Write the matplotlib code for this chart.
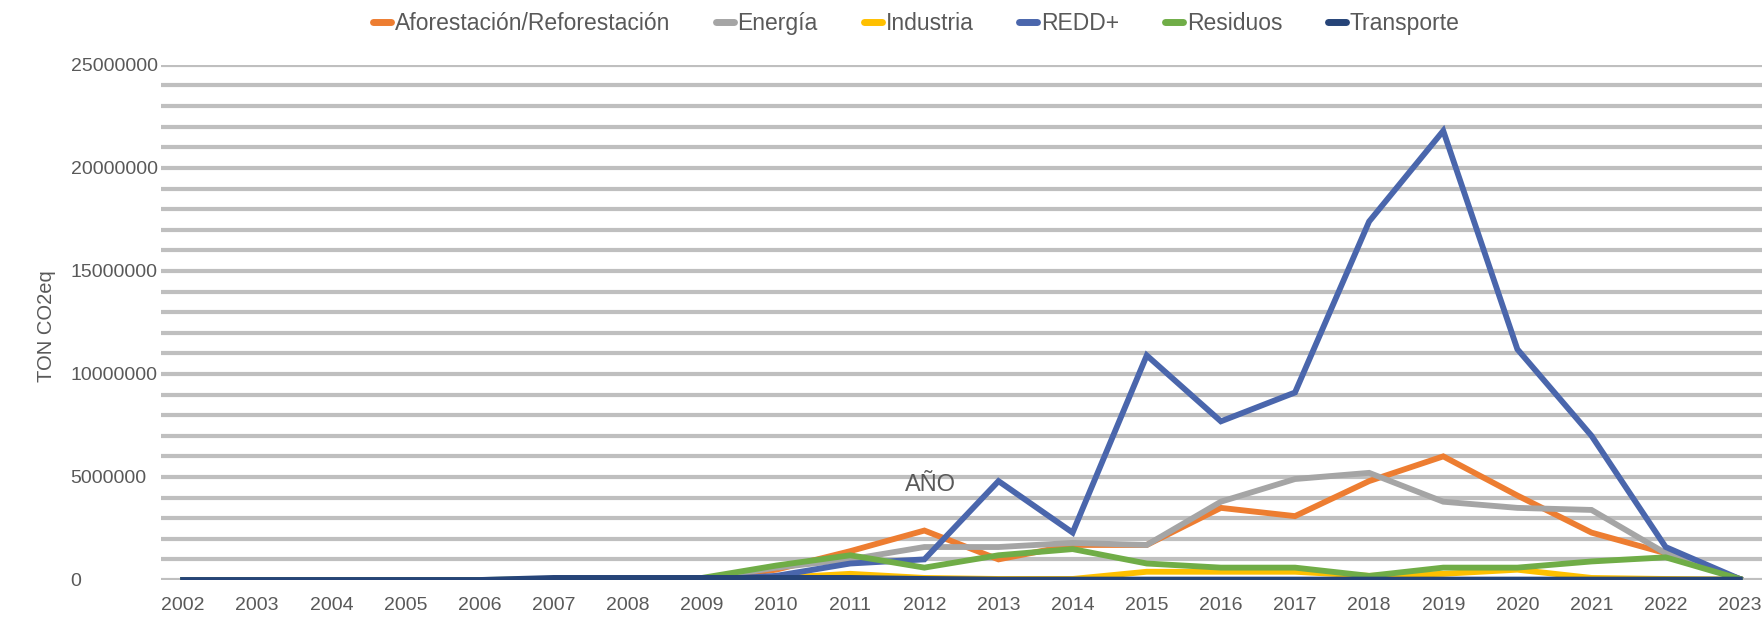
import matplotlib.pyplot as plt

years = list(range(2002, 2024))

aforestacion = [0, 0, 0, 0, 0, 0, 0, 0.05e6, 0.5e6, 1.4e6, 2.4e6, 1.0e6, 1.7e6, 1.7e6,
                3.5e6, 3.1e6, 4.8e6, 6.0e6, 4.1e6, 2.3e6, 1.3e6, 0.05e6]
energia = [0, 0, 0, 0, 0, 0, 0, 0.05e6, 0.6e6, 1.0e6, 1.6e6, 1.6e6, 1.8e6, 1.7e6,
           3.8e6, 4.9e6, 5.2e6, 3.8e6, 3.5e6, 3.4e6, 1.3e6, 0.05e6]
industria = [0, 0, 0, 0, 0, 0, 0, 0, 0.1e6, 0.3e6, 0.1e6, 0.05e6, 0.05e6, 0.4e6,
             0.4e6, 0.4e6, 0.2e6, 0.3e6, 0.5e6, 0.1e6, 0.05e6, 0.02e6]
redd = [0, 0, 0, 0, 0, 0, 0, 0, 0.2e6, 0.8e6, 1.0e6, 4.8e6, 2.3e6, 10.9e6,
        7.7e6, 9.1e6, 17.4e6, 21.8e6, 11.2e6, 7.0e6, 1.6e6, 0.05e6]
residuos = [0, 0, 0, 0, 0, 0.05e6, 0, 0.1e6, 0.7e6, 1.2e6, 0.6e6, 1.2e6, 1.5e6, 0.8e6,
            0.6e6, 0.6e6, 0.2e6, 0.6e6, 0.6e6, 0.9e6, 1.1e6, 0.05e6]
transporte = [0, 0, 0, 0, 0, 0.1e6, 0.1e6, 0.1e6, 0.1e6, 0.1e6, 0.05e6, 0.02e6, 0.02e6, 0.02e6,
              0.02e6, 0.02e6, 0.02e6, 0.02e6, 0.02e6, 0.02e6, 0.02e6, 0.02e6]

series = [
    ("Aforestación/Reforestación", aforestacion, "#ED7D31"),
    ("Energía", energia, "#A5A5A5"),
    ("Industria", industria, "#FFC000"),
    ("REDD+", redd, "#4A66AC"),
    ("Residuos", residuos, "#70AD47"),
    ("Transporte", transporte, "#264478"),
]

plt.rcParams['font.family'] = ['Liberation Sans', 'DejaVu Sans']

fig = plt.figure(figsize=(17.62, 6.18), dpi=100)
ax = fig.add_axes([0.0913, 0.0615, 0.9087, 0.8335])

for name, values, color in series:
    ax.plot(years, values, color=color, linewidth=4.2, label=name, solid_joinstyle='miter')

ax.set_xlim(2001.7, 2023.3)
ax.set_ylim(0, 25000000)
ax.set_xticks(years)
ax.set_xticklabels([str(y) for y in years])
ax.set_yticks(range(0, 25000001, 5000000))
ax.set_yticklabels([str(v) for v in range(0, 25000001, 5000000)])
ax.set_yticks(range(0, 25000001, 1000000), minor=True)
ax.grid(axis='y', which='both', color='#BFBFBF', linewidth=3)
ax.set_axisbelow(True)
ax.tick_params(axis='both', which='both', length=0, labelsize=14, labelcolor='#595959')
ax.tick_params(axis='y', pad=65)
ax.tick_params(axis='x', pad=12)
for label in ax.get_yticklabels():
    label.set_horizontalalignment('left')
for spine in ax.spines.values():
    spine.set_visible(False)

fig.text(0.0265, 0.473, "TON CO2eq", rotation=90, ha='center', va='center',
         fontsize=14.5, color='#595959')
fig.text(0.528, 0.215, "AÑO", ha='center', va='center', fontsize=17, color='#595959')

leg = fig.legend(loc='center', bbox_to_anchor=(0.52, 0.962), ncol=6, frameon=False,
                 fontsize=16.5, labelcolor='#595959', handlelength=0.8, handletextpad=0.15,
                 columnspacing=2.0)
for line in leg.get_lines():
    line.set_linewidth(5)
    line.set_solid_capstyle('round')

fig.savefig("out.png", dpi=100)
